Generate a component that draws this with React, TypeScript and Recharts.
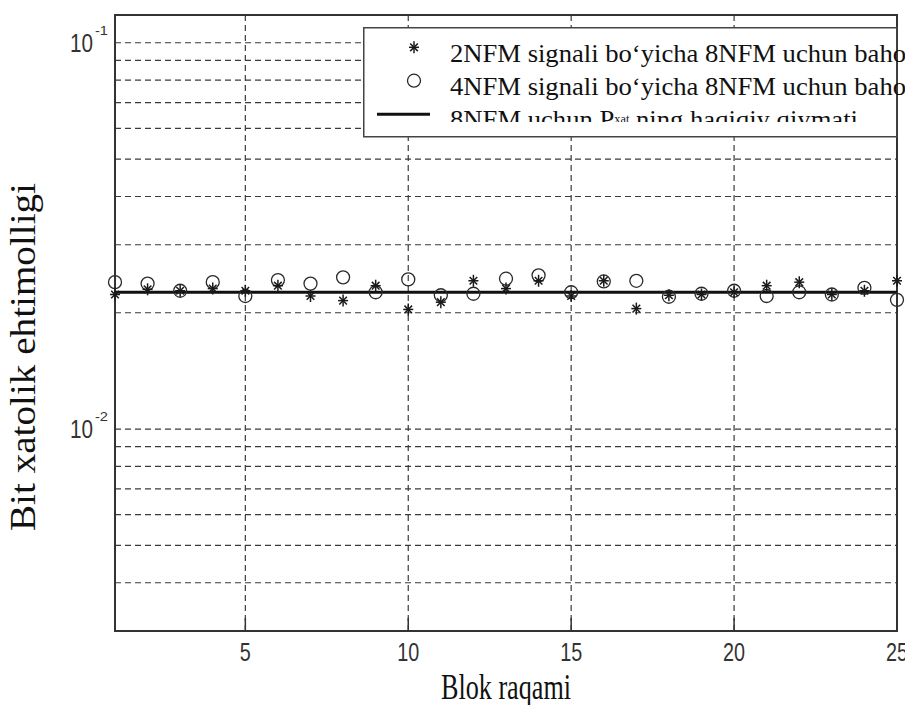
import React from "react";
import {
  CartesianGrid,
  ComposedChart,
  Line,
  ReferenceArea,
  Scatter,
  XAxis,
  YAxis,
} from "recharts";

const blocks = [1, 2, 3, 4, 5, 6, 7, 8, 9, 10, 11, 12, 13, 14, 15, 16, 17, 18, 19, 20, 21, 22, 23, 24, 25];
const est2NFM = [
  0.0223, 0.023, 0.0228, 0.0231, 0.0228, 0.0235, 0.0221, 0.0215, 0.0235, 0.0204, 0.0213, 0.0242, 0.0231,
  0.0242, 0.0221, 0.0242, 0.0205, 0.0222, 0.0223, 0.0226, 0.0235, 0.024, 0.0223, 0.0228, 0.0242,
];
const est4NFM = [
  0.024, 0.0238, 0.0228, 0.024, 0.0221, 0.0243, 0.0238, 0.0247, 0.0226, 0.0244, 0.0222, 0.0224, 0.0245,
  0.025, 0.0226, 0.0241, 0.0242, 0.022, 0.0224, 0.0228, 0.0221, 0.0226, 0.0223, 0.0232, 0.0216,
];
const trueBER = [
  0.0226, 0.0226, 0.0226, 0.0226, 0.0226, 0.0226, 0.0226, 0.0226, 0.0226, 0.0226, 0.0226, 0.0226, 0.0226,
  0.0226, 0.0226, 0.0226, 0.0226, 0.0226, 0.0226, 0.0226, 0.0226, 0.0226, 0.0226, 0.0226, 0.0226,
];

const xTicks = [5, 10, 15, 20, 25];
const yTicks = [0.004, 0.005, 0.006, 0.007, 0.008, 0.009, 0.01, 0.02, 0.03, 0.04, 0.05, 0.06, 0.07, 0.08, 0.09, 0.1];
const yExponents: Record<string, string> = { "0.01": "-2", "0.1": "-1" };

const legendLabels = [
  "2NFM signali bo‘yicha 8NFM uchun baho",
  "4NFM signali bo‘yicha 8NFM uchun baho",
];

const data = blocks.map((b, i) => ({ block: b, p2: est2NFM[i], p4: est4NFM[i], truth: trueBER[i] }));

const INK = "#333";
const SERIF = "'Liberation Serif', 'Times New Roman', serif";
const SANS = "'Liberation Sans', Arial, sans-serif";

function BottomTick({ x, y, payload }: any) {
  const s = String(payload.value);
  return (
    <g>
      <line x1={x} y1={y} x2={x} y2={y - 13} stroke={INK} strokeWidth={1.5} />
      <text x={x} y={y + 29.5} textAnchor="middle" fontSize={26} style={{ fontFamily: SANS }} fill={INK}
        textLength={11 * s.length} lengthAdjust="spacingAndGlyphs">
        {s}
      </text>
    </g>
  );
}

function TopTick({ x, y }: any) {
  return <line x1={x} y1={y} x2={x} y2={y + 13} stroke={INK} strokeWidth={1.5} />;
}

function YTick({ x, y, payload }: any) {
  const exp = yExponents[String(payload.value)];
  if (!exp) return <g />;
  return (
    <g fill={INK} style={{ fontFamily: SANS }}>
      <text x={x - 45} y={y + 9} fontSize={26} textLength={23} lengthAdjust="spacingAndGlyphs">10</text>
      <text x={x - 20} y={y - 8} fontSize={13} textLength={13} lengthAdjust="spacingAndGlyphs">{exp}</text>
    </g>
  );
}

function StarShape({ cx, cy }: any) {
  if (cx == null || cy == null) return <g />;
  return (
    <g stroke="#1a1a1a" strokeWidth={1.5}>
      <line x1={cx - 5} y1={cy} x2={cx + 5} y2={cy} />
      <line x1={cx} y1={cy - 6} x2={cx} y2={cy + 6} />
      <line x1={cx - 3.8} y1={cy - 3.8} x2={cx + 3.8} y2={cy + 3.8} />
      <line x1={cx - 3.8} y1={cy + 3.8} x2={cx + 3.8} y2={cy - 3.8} />
    </g>
  );
}

function CircleShape({ cx, cy }: any) {
  if (cx == null || cy == null) return <g />;
  return <circle cx={cx} cy={cy} r={6.5} fill="none" stroke="#2a2a2a" strokeWidth={1.3} />;
}

function LegendBox() {
  return (
    <svg width={560} height={120} style={{ position: "absolute", left: 355, top: 19, overflow: "visible" }}>
      <defs>
        <clipPath id="legendClip">
          <rect x={0} y={0} width={600} height={95} />
        </clipPath>
      </defs>
      <rect x={0.75} y={0.75} width={533} height={109} fill="#fff" stroke="#444" strokeWidth={1.5} />
      <StarShape cx={51} cy={20.3} />
      <CircleShape cx={51} cy={53.7} />
      <line x1={14} y1={87.3} x2={67} y2={87.3} stroke="#111" strokeWidth={3} />
      <g clipPath="url(#legendClip)" fill="#111" style={{ fontFamily: SERIF, fontSize: 26 }}>
        <text x={87} y={34.7} textLength={456} lengthAdjust="spacingAndGlyphs">{legendLabels[0]}</text>
        <text x={87} y={68} textLength={456} lengthAdjust="spacingAndGlyphs">{legendLabels[1]}</text>
        <text x={87} y={101.3} textLength={408} lengthAdjust="spacingAndGlyphs">
          8NFM uchun P<tspan style={{ fontSize: 12 }} dy={-5}>xat</tspan>
          <tspan dy={5}> ning haqiqiy qiymati</tspan>
        </text>
      </g>
    </svg>
  );
}

export default function App() {
  return (
    <div style={{ position: "relative", width: 905, height: 697 }}>
      <style>{`body { overflow: hidden; } .recharts-wrapper, .recharts-surface { overflow: visible !important; }`}</style>
      <ComposedChart width={905} height={697} data={data} margin={{ top: 7, right: 16, bottom: 0, left: 0 }}>
        <CartesianGrid stroke="#3a3a3a" strokeWidth={1.2} strokeDasharray="6 4" />
        <XAxis
          dataKey="block"
          type="number"
          domain={[1, 25]}
          ticks={xTicks}
          interval={0}
          height={74}
          tickSize={0}
          tickMargin={0}
          axisLine={false}
          tickLine={false}
          tick={(p: any) => <BottomTick {...p} />}
          label={{
            content: ({ viewBox }: any) => (
              <text x={viewBox.x + viewBox.width / 2} y={viewBox.y + 68} textAnchor="middle"
                style={{ fontFamily: SERIF, fontSize: 35 }} fill="#111" textLength={130} lengthAdjust="spacingAndGlyphs">
                Blok raqami
              </text>
            ),
          }}
        />
        <XAxis
          xAxisId="top"
          orientation="top"
          dataKey="block"
          type="number"
          domain={[1, 25]}
          ticks={xTicks}
          interval={0}
          height={0}
          tickSize={0}
          tickMargin={0}
          axisLine={false}
          tickLine={false}
          tick={(p: any) => <TopTick {...p} />}
        />
        <YAxis
          scale="log"
          domain={[0.003, 0.118]}
          allowDataOverflow
          ticks={yTicks}
          interval={0}
          width={107}
          tickSize={0}
          tickMargin={0}
          axisLine={false}
          tickLine={false}
          tick={(p: any) => <YTick {...p} />}
          label={{
            content: ({ viewBox }: any) => (
              <text x={27} y={viewBox.y + 342} textAnchor="middle" transform={`rotate(-90 27 ${viewBox.y + 342})`}
                style={{ fontFamily: SERIF, fontSize: 36 }} fill="#111" textLength={348} lengthAdjust="spacingAndGlyphs">
                Bit xatolik ehtimolligi
              </text>
            ),
          }}
        />
        <ReferenceArea x1={1} x2={25} y1={0.003} y2={0.118} fill="none" stroke={INK} strokeWidth={2} />
        <Scatter dataKey="p4" shape={(p: any) => <CircleShape {...p} />} isAnimationActive={false} />
        <Scatter dataKey="p2" shape={(p: any) => <StarShape {...p} />} isAnimationActive={false} />
        <Line dataKey="truth" type="linear" stroke="#111" strokeWidth={3} dot={false} isAnimationActive={false} />
      </ComposedChart>
      <LegendBox />
    </div>
  );
}
